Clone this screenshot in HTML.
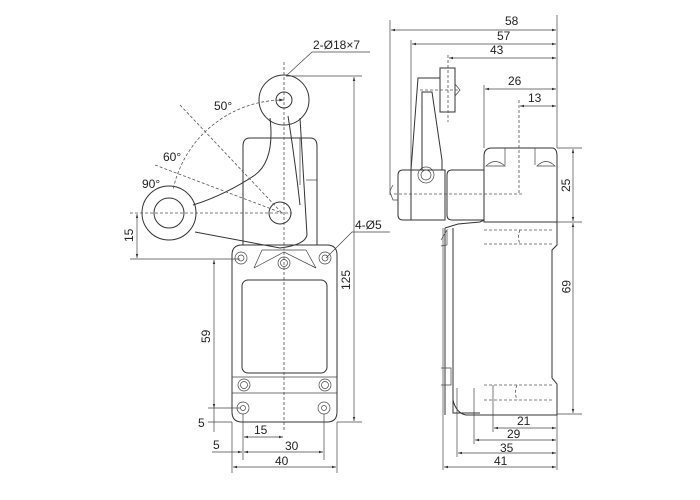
<!DOCTYPE html>
<html><head><meta charset="utf-8"><style>
html,body{margin:0;padding:0;background:#fff;width:700px;height:500px;overflow:hidden}
svg{display:block}
text{font-family:"Liberation Sans",sans-serif;font-size:12px;fill:#222}
.l{stroke:#333;stroke-width:1;fill:none}
.t{stroke:#444;stroke-width:0.7;fill:none}
.d{stroke:#555;stroke-width:0.8;fill:none;stroke-dasharray:3,2}
</style></head><body>
<svg width="700" height="500" viewBox="0 0 700 500">
<defs>
<marker id="a" viewBox="0 0 10 10" refX="10" refY="5" markerWidth="6" markerHeight="6" orient="auto-start-reverse"><path d="M0,2 L10,5 L0,8z" fill="#333"/></marker>
</defs>
<!-- FRONT VIEW -->
<!-- body behind arm -->
<path class="l" d="M250,138 H310 Q317,138 317,146 V245 H243 V146 Q243,138 250,138Z"/>
<line class="t" x1="300" y1="138" x2="300" y2="185"/>
<line class="t" x1="306" y1="180" x2="317" y2="180"/>
<!-- arm -->
<path class="l" d="M270,118 Q275,160 255,175 Q225,195 193,205 M300,118 Q303,170 307,235 Q305,245 280,248 L195,232"/>
<path class="l" d="M288,116 Q295,160 300,205"/>
<!-- top roller -->
<circle class="l" cx="284" cy="100" r="25" fill="#fff"/>
<circle class="l" cx="284" cy="100" r="8"/>
<!-- left roller -->
<circle class="l" cx="169" cy="213" r="27" fill="#fff"/>
<circle class="l" cx="169" cy="213" r="15"/>
<!-- pivot -->
<circle class="l" cx="280" cy="213" r="11"/>
<!-- centerlines -->
<line class="d" x1="284" y1="62" x2="284" y2="430"/>
<line class="d" x1="130" y1="213" x2="292" y2="213"/>
<line class="d" x1="180" y1="105" x2="282" y2="213" stroke-dasharray="2,2"/>
<line class="d" x1="155" y1="165" x2="282" y2="213" stroke-dasharray="2,2"/>
<path class="d" d="M284,100 A113,113 0 0 0 173,190" marker-start="url(#a)"/>
<text x="214" y="110">50°</text>
<text x="163" y="161">60°</text>
<text x="142" y="188">90°</text>
<!-- base -->
<path class="l" d="M242,245 H327 Q337,245 337,255 V412 Q337,422 327,422 H242 Q232,422 232,412 V255 Q232,245 242,245Z" fill="#fff"/>
<path class="t" d="M262,250 L254,268 M306,250 L316,268 M262,250 H306 M254,268 L284,252 L316,268"/>
<rect class="l" x="242" y="280" width="85" height="93" rx="6"/>
<line class="t" x1="232" y1="393" x2="337" y2="393"/>
<path class="t" d="M232,377 H337"/>
<g class="t">
<circle cx="241" cy="258" r="6"/><circle cx="241" cy="258" r="3"/>
<circle cx="325" cy="258" r="6"/><circle cx="325" cy="258" r="3"/>
<circle cx="284" cy="263" r="6"/><circle cx="284" cy="263" r="3.5"/>
<circle cx="244" cy="385" r="6"/><circle cx="244" cy="385" r="3.5"/>
<circle cx="325" cy="385" r="6"/><circle cx="325" cy="385" r="3.5"/>
<circle cx="243" cy="408" r="6"/><circle cx="243" cy="408" r="2.5"/>
<circle cx="324" cy="408" r="6"/><circle cx="324" cy="408" r="2.5"/>
</g>
<!-- front dims -->
<line class="t" x1="286" y1="76" x2="362" y2="76"/>
<line class="t" x1="337" y1="422" x2="362" y2="422"/>
<line class="t" x1="354" y1="77" x2="354" y2="421" marker-start="url(#a)" marker-end="url(#a)"/>
<text x="0" y="0" transform="translate(350,290) rotate(-90)">125</text>
<line class="t" x1="130" y1="259" x2="240" y2="259"/>
<line class="t" x1="137" y1="214" x2="137" y2="258" marker-start="url(#a)" marker-end="url(#a)"/>
<text transform="translate(133,242) rotate(-90)">15</text>
<line class="t" x1="214" y1="260" x2="214" y2="408" marker-start="url(#a)" marker-end="url(#a)"/>
<text transform="translate(210,343) rotate(-90)">59</text>
<line class="t" x1="208" y1="408" x2="240" y2="408"/>
<line class="t" x1="208" y1="422" x2="232" y2="422"/>
<line class="t" x1="214" y1="408" x2="214" y2="432"/>
<text x="198" y="427">5</text>
<line class="t" x1="232" y1="422" x2="232" y2="473"/>
<line class="t" x1="337" y1="422" x2="337" y2="473"/>
<line class="t" x1="243" y1="414" x2="243" y2="460"/>
<line class="t" x1="324" y1="414" x2="324" y2="460"/>
<line class="t" x1="244" y1="437" x2="283" y2="437" marker-start="url(#a)" marker-end="url(#a)"/>
<text x="254" y="434">15</text>
<line class="t" x1="244" y1="452" x2="323" y2="452" marker-start="url(#a)" marker-end="url(#a)"/>
<text x="285" y="450">30</text>
<line class="t" x1="212" y1="452" x2="242" y2="452" marker-end="url(#a)"/>
<text x="213" y="449">5</text>
<line class="t" x1="233" y1="467" x2="336" y2="467" marker-start="url(#a)" marker-end="url(#a)"/>
<text x="275" y="465">40</text>
<!-- labels -->
<polyline class="t" points="286,76 312,52 370,52"/>
<text x="313" y="49">2-Ø18×7</text>
<polyline class="t" points="326,258 352,232 390,232"/>
<text x="355" y="229">4-Ø5</text>

<!-- SIDE VIEW -->
<!-- top head -->
<path class="l" d="M492,148 H552 Q557,148 557,156 V222 H484 V156 Q484,148 492,148Z"/>
<line class="t" x1="505" y1="148" x2="505" y2="165"/><line class="t" x1="535" y1="148" x2="535" y2="165"/>
<path class="t" d="M486,166 Q495,157 505,166Z M537,166 Q546,157 555,166Z"/>
<path class="l" d="M403,170 H445 V220 H403 Q398,220 398,215 V175 Q398,170 403,170Z"/>
<path class="l" d="M452,170 H484 V220 H452 Q447,220 447,215 V175 Q447,170 452,170Z"/>
<path class="t" d="M393,185 Q390,190 390,192 L393,200 H398"/>
<line class="d" x1="394" y1="194" x2="522" y2="194"/>
<line class="d" x1="519" y1="100" x2="519" y2="194"/>
<circle class="t" cx="426" cy="175" r="8"/><circle class="t" cx="426" cy="175" r="5"/>
<!-- arm -->
<path class="l" d="M411,220 V170 L418,78 H440 M422,170 L422,92 H432 L442,160 V170"/>
<rect class="l" x="440" y="68" width="15" height="44"/>
<path class="t" d="M455,84 L460,90 L455,96"/>
<line class="d" x1="448" y1="55" x2="448" y2="122"/>
<line class="d" x1="420" y1="90" x2="460" y2="90"/>
<!-- main body -->
<path class="l" d="M445,228 L458,224 L480,222 L484,220 M445,228 V415 M453,228 V413 H480"/>
<path class="l" d="M557,222 V245 L552,250 V378 L557,384 V415 H466 Q456,413 453,400"/>
<path class="t" d="M441,240 L447,230 V245 L441,246 M441,368 H451 V385 H441"/>
<line class="t" x1="443" y1="228" x2="443" y2="470"/>
<path class="d" d="M484,230 H552 M484,244 H552 M520,230 Q517,237 520,244 M484,385 H552 M484,400 H552 M517,385 Q514,392 517,400"/>
<!-- side dims -->
<line class="t" x1="390" y1="20" x2="390" y2="195"/>
<line class="t" x1="411" y1="40" x2="411" y2="170"/>
<line class="t" x1="557" y1="15" x2="557" y2="148"/>
<line class="t" x1="484" y1="85" x2="484" y2="148"/>
<line class="t" x1="391" y1="30" x2="556" y2="30" marker-start="url(#a)" marker-end="url(#a)"/>
<text x="505" y="25">58</text>
<line class="t" x1="412" y1="44" x2="556" y2="44" marker-start="url(#a)" marker-end="url(#a)"/>
<text x="497" y="40">57</text>
<line class="t" x1="449" y1="58" x2="556" y2="58" marker-start="url(#a)" marker-end="url(#a)"/>
<text x="490" y="54">43</text>
<line class="t" x1="485" y1="89" x2="556" y2="89" marker-start="url(#a)" marker-end="url(#a)"/>
<text x="508" y="85">26</text>
<line class="t" x1="520" y1="106" x2="556" y2="106" marker-start="url(#a)" marker-end="url(#a)"/>
<text x="528" y="102">13</text>
<line class="t" x1="557" y1="148" x2="582" y2="148"/>
<line class="t" x1="557" y1="222" x2="582" y2="222"/>
<line class="t" x1="557" y1="414" x2="582" y2="414"/>
<line class="t" x1="573" y1="149" x2="573" y2="221" marker-start="url(#a)" marker-end="url(#a)"/>
<text transform="translate(570,192) rotate(-90)">25</text>
<line class="t" x1="573" y1="223" x2="573" y2="413" marker-start="url(#a)" marker-end="url(#a)"/>
<text transform="translate(562,280) rotate(90)">69</text>
<line class="t" x1="557" y1="415" x2="557" y2="470"/>
<line class="t" x1="493" y1="385" x2="493" y2="432"/>
<line class="t" x1="474" y1="388" x2="474" y2="444"/>
<line class="t" x1="457" y1="388" x2="457" y2="457"/>
<line class="t" x1="494" y1="428" x2="556" y2="428" marker-start="url(#a)" marker-end="url(#a)"/>
<text x="517" y="425">21</text>
<line class="t" x1="475" y1="440" x2="556" y2="440" marker-start="url(#a)" marker-end="url(#a)"/>
<text x="507" y="438">29</text>
<line class="t" x1="458" y1="453" x2="556" y2="453" marker-start="url(#a)" marker-end="url(#a)"/>
<text x="500" y="452">35</text>
<line class="t" x1="444" y1="467" x2="556" y2="467" marker-start="url(#a)" marker-end="url(#a)"/>
<text x="494" y="465">41</text>
</svg>
</body></html>
